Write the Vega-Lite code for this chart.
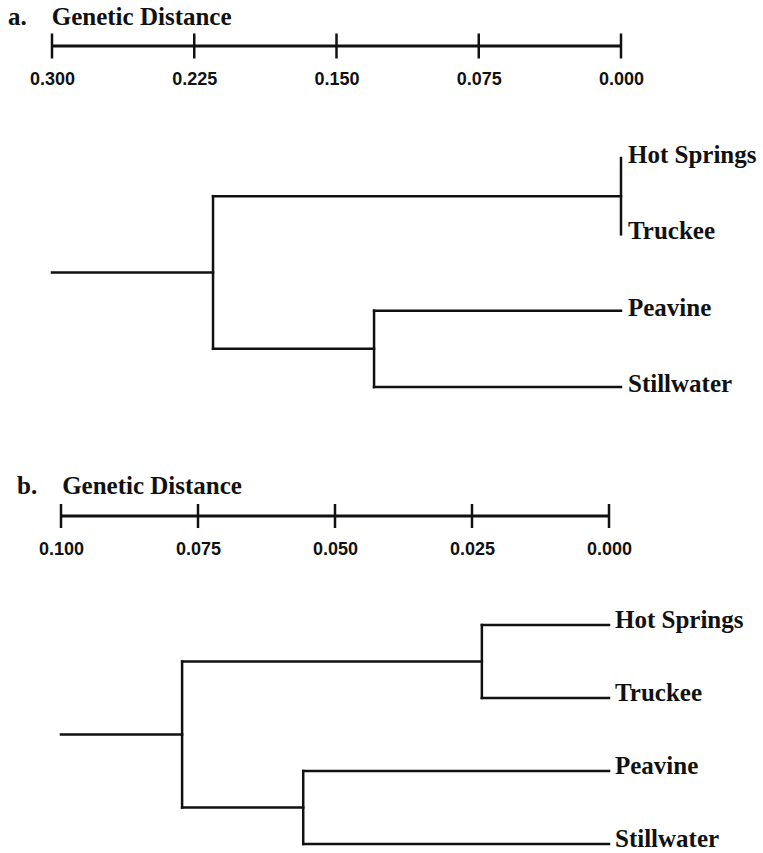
{
  "$schema": "https://vega.github.io/schema/vega-lite/v6.json",
  "background": "white",
  "padding": {"top": 5, "left": 0, "right": 0, "bottom": 0},
  "spacing": 0,
  "bounds": "flush",
  "config": {"view": {"stroke": null}},
  "resolve": {"scale": {"x": "independent", "y": "independent"}},
  "datasets": {
    "barA": [{"from": 0.3, "to": 0}],
    "ticksA": [{"d": 0.3}, {"d": 0.225}, {"d": 0.15}, {"d": 0.075}, {"d": 0}],
    "barB": [{"from": 0.1, "to": 0}],
    "ticksB": [{"d": 0.1}, {"d": 0.075}, {"d": 0.05}, {"d": 0.025}, {"d": 0}],
    "treeA": [
      {"d1": 0.3, "d2": 0.2151, "r1": 2.5, "r2": 2.5},
      {"d1": 0.2151, "d2": 0.2151, "r1": 1.5, "r2": 3.5},
      {"d1": 0.2151, "d2": 0, "r1": 1.5, "r2": 1.5},
      {"d1": 0, "d2": 0, "r1": 1, "r2": 2},
      {"d1": 0.2151, "d2": 0.1302, "r1": 3.5, "r2": 3.5},
      {"d1": 0.1302, "d2": 0.1302, "r1": 3, "r2": 4},
      {"d1": 0.1302, "d2": 0, "r1": 3, "r2": 3},
      {"d1": 0.1302, "d2": 0, "r1": 4, "r2": 4}
    ],
    "treeB": [
      {"d1": 0.1, "d2": 0.0779, "r1": 2.5, "r2": 2.5},
      {"d1": 0.0779, "d2": 0.0779, "r1": 1.5, "r2": 3.5},
      {"d1": 0.0779, "d2": 0.0232, "r1": 1.5, "r2": 1.5},
      {"d1": 0.0232, "d2": 0.0232, "r1": 1, "r2": 2},
      {"d1": 0.0232, "d2": 0, "r1": 1, "r2": 1},
      {"d1": 0.0232, "d2": 0, "r1": 2, "r2": 2},
      {"d1": 0.0779, "d2": 0.0558, "r1": 3.5, "r2": 3.5},
      {"d1": 0.0558, "d2": 0.0558, "r1": 3, "r2": 4},
      {"d1": 0.0558, "d2": 0, "r1": 3, "r2": 3},
      {"d1": 0.0558, "d2": 0, "r1": 4, "r2": 4}
    ],
    "leaves": [
      {"name": "Hot Springs", "row": 1, "d": 0},
      {"name": "Truckee", "row": 2, "d": 0},
      {"name": "Peavine", "row": 3, "d": 0},
      {"name": "Stillwater", "row": 4, "d": 0}
    ]
  },
  "vconcat": [
    {
      "width": 763,
      "height": 26,
      "title": {
        "text": "a.\u00a0\u00a0\u00a0\u00a0Genetic Distance",
        "anchor": "start", "frame": "group", "dx": 8, "offset": -17,
        "font": "Liberation Serif", "fontSize": 25, "fontWeight": "bold",
        "baseline": "alphabetic", "color": "#111"
      },
      "layer": [
        {
          "data": {"name": "barA"},
          "mark": {"type": "rule", "color": "#111", "strokeWidth": 3},
          "encoding": {
            "x": {"field": "from", "type": "quantitative",
              "scale": {"domain": [0.3, 0], "range": [52, 621], "nice": false, "zero": false},
              "axis": {
                "values": [0.3, 0.225, 0.15, 0.075, 0], "format": ".3f",
                "orient": "bottom", "domain": false, "ticks": false, "tickSize": 0, "grid": false,
                "title": null, "labelFlush": false, "labelOverlap": false, "labelPadding": 11,
                "labelFont": "Liberation Sans", "labelFontSize": 18, "labelFontWeight": "bold",
                "labelColor": "#111"
              }},
            "x2": {"field": "to"}
          }
        },
        {
          "data": {"name": "ticksA"},
          "mark": {"type": "tick", "orient": "vertical", "color": "#111", "size": 25, "thickness": 2.5, "opacity": 1},
          "encoding": {"x": {"field": "d", "type": "quantitative"}}
        }
      ]
    },
    {
      "width": 763,
      "height": 445,
      "layer": [
        {
          "data": {"name": "treeA"},
          "mark": {"type": "rule", "color": "#111", "strokeWidth": 2.5, "strokeCap": "square"},
          "encoding": {
            "x": {"field": "d1", "type": "quantitative",
              "scale": {"domain": [0.3, 0], "range": [52, 621], "nice": false, "zero": false}, "axis": null},
            "x2": {"field": "d2"},
            "y": {"field": "r1", "type": "quantitative",
              "scale": {"domain": [1, 4], "range": [99, 328], "nice": false, "zero": false}, "axis": null},
            "y2": {"field": "r2"}
          }
        },
        {
          "data": {"name": "leaves"},
          "mark": {"type": "text", "align": "left", "baseline": "middle", "dx": 7, "dy": -3,
            "font": "Liberation Serif", "fontSize": 25, "fontWeight": "bold", "color": "#111"},
          "encoding": {
            "x": {"field": "d", "type": "quantitative"},
            "y": {"field": "row", "type": "quantitative"},
            "text": {"field": "name"}
          }
        }
      ]
    },
    {
      "width": 763,
      "height": 24,
      "title": {
        "text": "b.\u00a0\u00a0\u00a0\u00a0Genetic Distance",
        "anchor": "start", "frame": "group", "dx": 17, "offset": -15,
        "font": "Liberation Serif", "fontSize": 25, "fontWeight": "bold",
        "baseline": "alphabetic", "color": "#111"
      },
      "layer": [
        {
          "data": {"name": "barB"},
          "mark": {"type": "rule", "color": "#111", "strokeWidth": 3},
          "encoding": {
            "x": {"field": "from", "type": "quantitative",
              "scale": {"domain": [0.1, 0], "range": [61, 609], "nice": false, "zero": false},
              "axis": {
                "values": [0.1, 0.075, 0.05, 0.025, 0], "format": ".3f",
                "orient": "bottom", "domain": false, "ticks": false, "tickSize": 0, "grid": false,
                "title": null, "labelFlush": false, "labelOverlap": false, "labelPadding": 12,
                "labelFont": "Liberation Sans", "labelFontSize": 18, "labelFontWeight": "bold",
                "labelColor": "#111"
              }},
            "x2": {"field": "to"}
          }
        },
        {
          "data": {"name": "ticksB"},
          "mark": {"type": "tick", "orient": "vertical", "color": "#111", "size": 24, "thickness": 2.5, "opacity": 1},
          "encoding": {"x": {"field": "d", "type": "quantitative"}}
        }
      ]
    },
    {
      "width": 763,
      "height": 326,
      "layer": [
        {
          "data": {"name": "treeB"},
          "mark": {"type": "rule", "color": "#111", "strokeWidth": 2.5, "strokeCap": "square"},
          "encoding": {
            "x": {"field": "d1", "type": "quantitative",
              "scale": {"domain": [0.1, 0], "range": [61, 609], "nice": false, "zero": false}, "axis": null},
            "x2": {"field": "d2"},
            "y": {"field": "r1", "type": "quantitative",
              "scale": {"domain": [1, 4], "range": [97, 316], "nice": false, "zero": false}, "axis": null},
            "y2": {"field": "r2"}
          }
        },
        {
          "data": {"name": "leaves"},
          "mark": {"type": "text", "align": "left", "baseline": "middle", "dx": 6, "dy": -5,
            "font": "Liberation Serif", "fontSize": 25, "fontWeight": "bold", "color": "#111"},
          "encoding": {
            "x": {"field": "d", "type": "quantitative"},
            "y": {"field": "row", "type": "quantitative"},
            "text": {"field": "name"}
          }
        }
      ]
    }
  ]
}
